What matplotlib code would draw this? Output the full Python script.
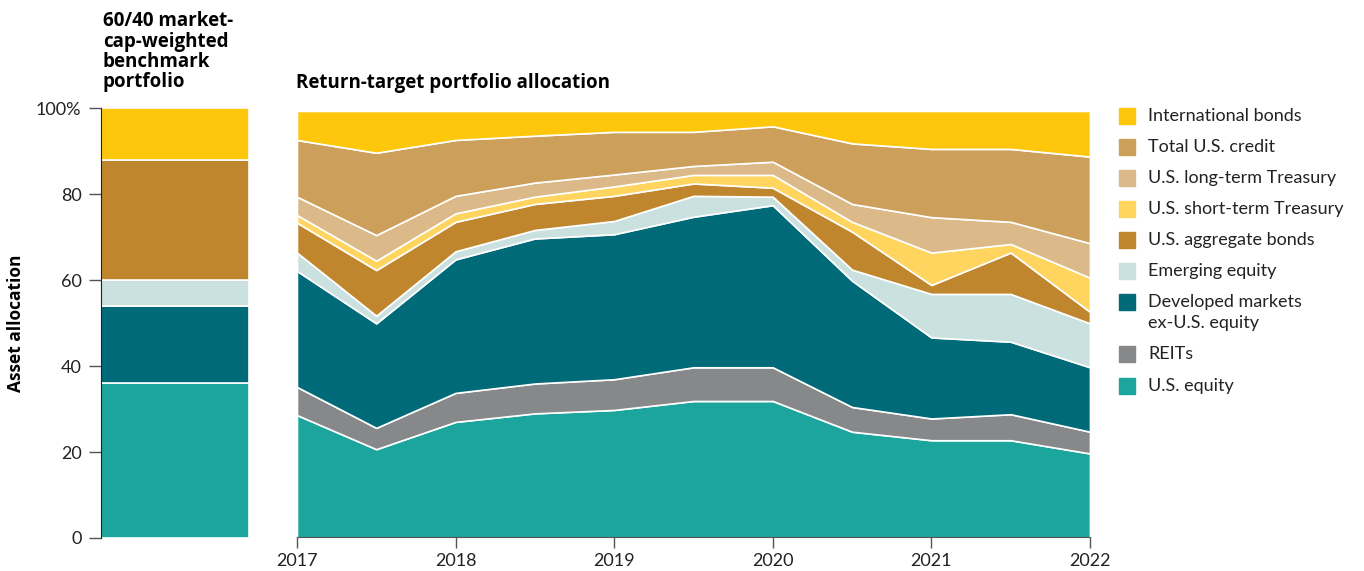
import matplotlib
matplotlib.use("Agg")
import matplotlib.pyplot as plt
from matplotlib.patches import Rectangle

plt.rcParams['font.family'] = ['Lato', 'DejaVu Sans']

# return-target portfolio, half-year steps
years = [2017, 2017.5, 2018, 2018.5, 2019, 2019.5, 2020, 2020.5, 2021, 2021.5, 2022]
us_equity = [28.7, 20.7, 27.1, 29.1, 29.9, 32.0, 32.0, 24.8, 22.8, 22.8, 19.7]
reits = [6.6, 5.0, 6.8, 7.0, 7.2, 7.9, 7.9, 5.8, 5.1, 6.1, 5.1]
developed = [27.2, 24.5, 31.3, 34.0, 34.0, 35.3, 38.0, 29.6, 19.0, 17.0, 15.1]
emerging = [4.3, 1.8, 1.9, 2.0, 3.1, 4.9, 2.0, 2.6, 10.2, 11.2, 10.3]
agg_bonds = [7.0, 10.7, 6.9, 6.1, 5.9, 2.9, 2.1, 8.9, 2.1, 9.7, 2.7]
short_treas = [1.8, 2.2, 2.0, 1.7, 2.2, 2.0, 3.0, 2.3, 7.6, 2.0, 8.0]
long_treas = [4.3, 6.0, 4.1, 3.3, 2.8, 2.1, 3.1, 4.2, 8.3, 5.2, 8.1]
credit = [13.3, 19.3, 13.1, 11.0, 10.0, 8.0, 8.3, 14.2, 16.0, 17.1, 20.3]
intl_bonds = [6.8, 9.8, 6.8, 5.8, 4.9, 4.9, 3.6, 7.6, 8.9, 8.9, 10.7]

# 60/40 benchmark
bench_labels = ['U.S. equity', 'Developed markets\nex-U.S. equity', 'Emerging equity',
                'U.S. aggregate bonds', 'International bonds']
bench_values = [36, 18, 6, 28, 12]

labels = ['U.S. equity', 'REITs', 'Developed markets\nex-U.S. equity', 'Emerging equity',
          'U.S. aggregate bonds', 'U.S. short-term Treasury', 'U.S. long-term Treasury',
          'Total U.S. credit', 'International bonds']
colors = {
    'U.S. equity': '#1ba59c',
    'REITs': '#87888a',
    'Developed markets\nex-U.S. equity': '#006a78',
    'Emerging equity': '#cbe1e0',
    'U.S. aggregate bonds': '#c0862e',
    'U.S. short-term Treasury': '#ffd45f',
    'U.S. long-term Treasury': '#dcb988',
    'Total U.S. credit': '#cc9f5a',
    'International bonds': '#ffc70b',
}
series = [us_equity, reits, developed, emerging, agg_bonds, short_treas,
          long_treas, credit, intl_bonds]

title_font = ['Open Sans', 'DejaVu Sans']

fig = plt.figure(figsize=(13.64, 5.71), dpi=100)

# left: benchmark bar
ax1 = fig.add_axes([0.0740, 0.0578, 0.1085, 0.753])
bottom = 0
for lab, v in zip(bench_labels, bench_values):
    ax1.bar(0, v, bottom=bottom, width=1, color=colors[lab], edgecolor='white', linewidth=1.2)
    bottom += v
ax1.set_xlim(-0.5, 0.5)
ax1.set_ylim(0, 100)
ax1.set_xticks([])
ax1.set_yticks([0, 20, 40, 60, 80, 100])
ax1.set_yticklabels(['0', '20', '40', '60', '80', '100%'], fontsize=13, color='#222222')
ax1.tick_params(axis='y', length=9, width=1, color='#555555', pad=5)
for s in ['top', 'right', 'bottom']:
    ax1.spines[s].set_visible(False)
ax1.spines['left'].set_color('#222222')
ax1.set_ylabel('Asset allocation', fontsize=12.5, fontweight='bold', labelpad=8,
               family=title_font)
title_lines = ['60/40 market-', 'cap-weighted', 'benchmark', 'portfolio']
for i, line in enumerate(title_lines):
    fig.text(103 / 1364, 1 - (26 + 20.5 * i) / 571, line, ha='left', va='baseline',
             fontsize=13.5, fontweight='bold', family=title_font)

# right: stacked area
ax2 = fig.add_axes([0.2177, 0.0587, 0.5814, 0.747])
ax2.stackplot(years, *series, colors=[colors[l] for l in labels],
              edgecolor='white', linewidth=1.2)
ax2.set_xlim(2017, 2022)
ax2.set_ylim(0, 100)
ax2.set_yticks([])
ax2.set_xticks([2017, 2018, 2019, 2020, 2021, 2022])
ax2.tick_params(axis='x', length=8, width=1, color='#555555', labelsize=13,
                labelcolor='#222222', pad=3)
for s in ['top', 'right', 'left']:
    ax2.spines[s].set_visible(False)
ax2.spines['bottom'].set_color('#555555')
fig.text(296 / 1364, 1 - 83 / 571, 'Return-target portfolio allocation', ha='left',
         va='center', fontsize=13.5, fontweight='bold', family=title_font)

# legend
legend_rows = [('International bonds', 116), ('Total U.S. credit', 147),
               ('U.S. long-term Treasury', 178), ('U.S. short-term Treasury', 209),
               ('U.S. aggregate bonds', 240), ('Emerging equity', 271),
               ('Developed markets\nex-U.S. equity', 302), ('REITs', 354),
               ('U.S. equity', 386)]
for lab, y in legend_rows:
    fy = 1 - y / 571
    fig.add_artist(Rectangle((1119 / 1364, fy - 8 / 571), 16 / 1364, 16 / 571,
                             transform=fig.transFigure, color=colors[lab]))
    for j, part in enumerate(lab.split('\n')):
        fig.text(1148 / 1364, 1 - (y + 21 * j) / 571, part, ha='left', va='center',
                 fontsize=13, color='#222222')

fig.savefig('out.png', dpi=100)
